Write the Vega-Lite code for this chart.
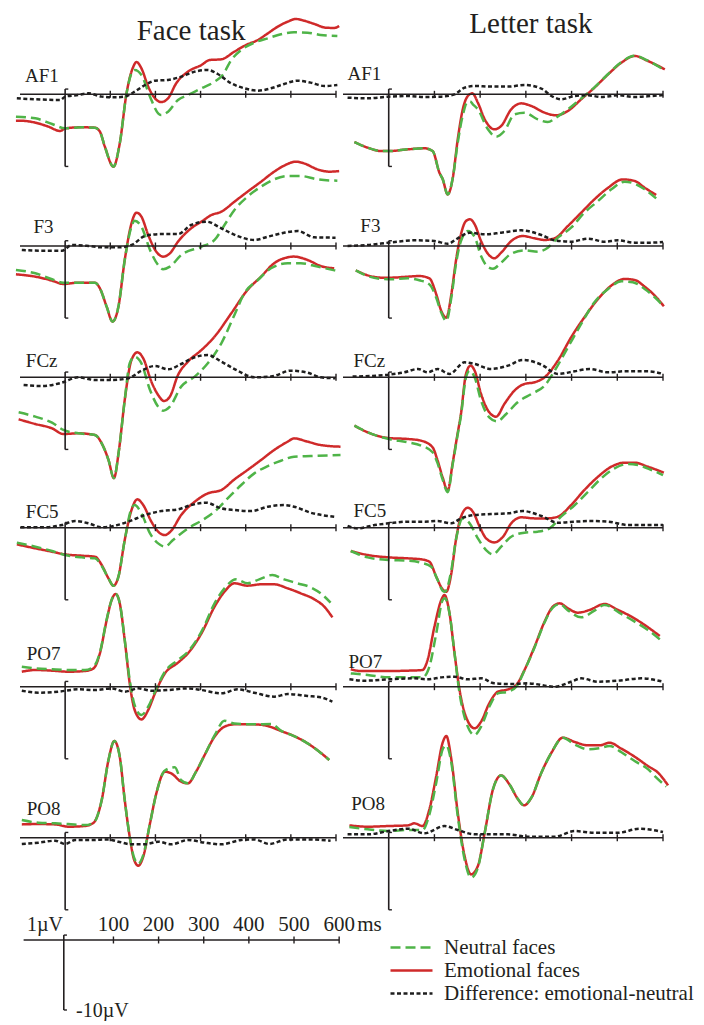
{
"$schema":"https://vega.github.io/schema/vega-lite/v6.json",
"padding":{"left":10,"top":8,"right":0,"bottom":0},
"config":{"view":{"stroke":null},"text":{"font":"Liberation Serif, Times New Roman, Times, serif"}},
"datasets":{
"ticks":[{"t":100},{"t":200},{"t":300},{"t":400},{"t":500},{"t":600}],
"ends":[{"v":0.75},{"v":-10.3}],
"F_AF1":[
{"cond":"Emotional","t":-109,"v":-3.76},{"cond":"Emotional","t":-100,"v":-3.76},{"cond":"Emotional","t":-66,"v":-4.05},{"cond":"Emotional","t":-37,"v":-4.62},{"cond":"Emotional","t":-11,"v":-5.24},{"cond":"Emotional","t":0,"v":-4.86},{"cond":"Emotional","t":37,"v":-4.71},{"cond":"Emotional","t":66,"v":-4.76},{"cond":"Emotional","t":77,"v":-5.33},{"cond":"Emotional","t":88,"v":-7.48},{"cond":"Emotional","t":107,"v":-10.33},{"cond":"Emotional","t":121,"v":-7.0},{"cond":"Emotional","t":136,"v":0.14},{"cond":"Emotional","t":151,"v":3.95},{"cond":"Emotional","t":158,"v":4.62},{"cond":"Emotional","t":169,"v":3.71},{"cond":"Emotional","t":184,"v":1.1},{"cond":"Emotional","t":199,"v":-0.57},{"cond":"Emotional","t":213,"v":-1.1},{"cond":"Emotional","t":228,"v":-0.57},{"cond":"Emotional","t":246,"v":1.57},{"cond":"Emotional","t":272,"v":3.24},{"cond":"Emotional","t":302,"v":4.19},{"cond":"Emotional","t":320,"v":4.9},{"cond":"Emotional","t":346,"v":5.0},{"cond":"Emotional","t":375,"v":6.1},{"cond":"Emotional","t":401,"v":7.05},{"cond":"Emotional","t":427,"v":7.76},{"cond":"Emotional","t":449,"v":8.71},{"cond":"Emotional","t":471,"v":9.67},{"cond":"Emotional","t":493,"v":10.38},{"cond":"Emotional","t":511,"v":10.76},{"cond":"Emotional","t":529,"v":10.52},{"cond":"Emotional","t":552,"v":10.05},{"cond":"Emotional","t":577,"v":9.52},{"cond":"Emotional","t":596,"v":9.48},{"cond":"Emotional","t":607,"v":9.76},
{"cond":"Neutral","t":-109,"v":-3.19},{"cond":"Neutral","t":-66,"v":-3.43},{"cond":"Neutral","t":-29,"v":-4.24},{"cond":"Neutral","t":0,"v":-4.86},{"cond":"Neutral","t":37,"v":-4.71},{"cond":"Neutral","t":66,"v":-4.76},{"cond":"Neutral","t":77,"v":-5.33},{"cond":"Neutral","t":88,"v":-7.48},{"cond":"Neutral","t":107,"v":-10.33},{"cond":"Neutral","t":121,"v":-7.0},{"cond":"Neutral","t":136,"v":0.14},{"cond":"Neutral","t":147,"v":3.0},{"cond":"Neutral","t":154,"v":3.48},{"cond":"Neutral","t":169,"v":2.76},{"cond":"Neutral","t":188,"v":-0.33},{"cond":"Neutral","t":206,"v":-2.71},{"cond":"Neutral","t":212,"v":-2.95},{"cond":"Neutral","t":228,"v":-2.48},{"cond":"Neutral","t":250,"v":-0.81},{"cond":"Neutral","t":272,"v":-0.1},{"cond":"Neutral","t":302,"v":0.86},{"cond":"Neutral","t":331,"v":1.81},{"cond":"Neutral","t":349,"v":2.76},{"cond":"Neutral","t":368,"v":4.9},{"cond":"Neutral","t":390,"v":6.33},{"cond":"Neutral","t":419,"v":7.38},{"cond":"Neutral","t":449,"v":8.0},{"cond":"Neutral","t":478,"v":8.57},{"cond":"Neutral","t":507,"v":8.86},{"cond":"Neutral","t":537,"v":8.81},{"cond":"Neutral","t":566,"v":8.48},{"cond":"Neutral","t":603,"v":8.33},
{"cond":"Difference","t":-107,"v":-0.57},{"cond":"Difference","t":-66,"v":-0.71},{"cond":"Difference","t":-11,"v":-0.81},{"cond":"Difference","t":0,"v":-0.33},{"cond":"Difference","t":29,"v":-0.1},{"cond":"Difference","t":52,"v":0.14},{"cond":"Difference","t":81,"v":-0.33},{"cond":"Difference","t":110,"v":-0.43},{"cond":"Difference","t":132,"v":-0.33},{"cond":"Difference","t":154,"v":0.38},{"cond":"Difference","t":177,"v":1.33},{"cond":"Difference","t":199,"v":1.95},{"cond":"Difference","t":228,"v":2.05},{"cond":"Difference","t":257,"v":2.52},{"cond":"Difference","t":287,"v":3.24},{"cond":"Difference","t":316,"v":3.48},{"cond":"Difference","t":338,"v":2.9},{"cond":"Difference","t":368,"v":1.57},{"cond":"Difference","t":397,"v":0.86},{"cond":"Difference","t":427,"v":0.52},{"cond":"Difference","t":456,"v":0.86},{"cond":"Difference","t":485,"v":1.48},{"cond":"Difference","t":515,"v":1.95},{"cond":"Difference","t":544,"v":1.67},{"cond":"Difference","t":574,"v":1.19},{"cond":"Difference","t":603,"v":1.33}
],
"L_AF1":[
{"cond":"Emotional","t":-75,"v":-6.81},{"cond":"Emotional","t":-46,"v":-7.62},{"cond":"Emotional","t":-17,"v":-8.1},{"cond":"Emotional","t":0,"v":-8.1},{"cond":"Emotional","t":42,"v":-7.86},{"cond":"Emotional","t":78,"v":-7.71},{"cond":"Emotional","t":96,"v":-8.1},{"cond":"Emotional","t":111,"v":-11.2},{"cond":"Emotional","t":118,"v":-12.1},{"cond":"Emotional","t":129,"v":-14.3},{"cond":"Emotional","t":140,"v":-12.0},{"cond":"Emotional","t":151,"v":-6.43},{"cond":"Emotional","t":162,"v":-2.14},{"cond":"Emotional","t":173,"v":-0.24},{"cond":"Emotional","t":183,"v":0.14},{"cond":"Emotional","t":195,"v":-1.19},{"cond":"Emotional","t":210,"v":-3.57},{"cond":"Emotional","t":231,"v":-5.0},{"cond":"Emotional","t":246,"v":-4.52},{"cond":"Emotional","t":268,"v":-2.14},{"cond":"Emotional","t":290,"v":-1.29},{"cond":"Emotional","t":312,"v":-1.67},{"cond":"Emotional","t":341,"v":-2.62},{"cond":"Emotional","t":366,"v":-3.0},{"cond":"Emotional","t":392,"v":-2.38},{"cond":"Emotional","t":421,"v":-0.71},{"cond":"Emotional","t":450,"v":0.95},{"cond":"Emotional","t":480,"v":2.86},{"cond":"Emotional","t":509,"v":4.52},{"cond":"Emotional","t":538,"v":5.48},{"cond":"Emotional","t":567,"v":4.76},{"cond":"Emotional","t":604,"v":3.57},
{"cond":"Neutral","t":-75,"v":-6.81},{"cond":"Neutral","t":-46,"v":-7.62},{"cond":"Neutral","t":-17,"v":-8.1},{"cond":"Neutral","t":0,"v":-8.1},{"cond":"Neutral","t":42,"v":-7.86},{"cond":"Neutral","t":78,"v":-7.71},{"cond":"Neutral","t":96,"v":-8.1},{"cond":"Neutral","t":111,"v":-11.2},{"cond":"Neutral","t":118,"v":-12.1},{"cond":"Neutral","t":129,"v":-14.3},{"cond":"Neutral","t":140,"v":-12.0},{"cond":"Neutral","t":151,"v":-6.9},{"cond":"Neutral","t":162,"v":-3.0},{"cond":"Neutral","t":172,"v":-1.1},{"cond":"Neutral","t":178,"v":-1.0},{"cond":"Neutral","t":184,"v":-1.43},{"cond":"Neutral","t":195,"v":-2.14},{"cond":"Neutral","t":217,"v":-5.0},{"cond":"Neutral","t":235,"v":-6.05},{"cond":"Neutral","t":253,"v":-5.24},{"cond":"Neutral","t":275,"v":-2.86},{"cond":"Neutral","t":297,"v":-2.62},{"cond":"Neutral","t":326,"v":-3.57},{"cond":"Neutral","t":348,"v":-3.95},{"cond":"Neutral","t":366,"v":-3.33},{"cond":"Neutral","t":392,"v":-2.14},{"cond":"Neutral","t":421,"v":-0.6},{"cond":"Neutral","t":450,"v":1.0},{"cond":"Neutral","t":480,"v":2.9},{"cond":"Neutral","t":509,"v":4.6},{"cond":"Neutral","t":538,"v":5.5},{"cond":"Neutral","t":567,"v":4.8},{"cond":"Neutral","t":604,"v":3.4},
{"cond":"Difference","t":-90,"v":-0.48},{"cond":"Difference","t":-46,"v":-0.57},{"cond":"Difference","t":0,"v":-0.33},{"cond":"Difference","t":42,"v":-0.24},{"cond":"Difference","t":78,"v":-0.38},{"cond":"Difference","t":115,"v":-0.33},{"cond":"Difference","t":144,"v":0},{"cond":"Difference","t":166,"v":0.95},{"cond":"Difference","t":188,"v":1.19},{"cond":"Difference","t":224,"v":1.1},{"cond":"Difference","t":261,"v":1.1},{"cond":"Difference","t":297,"v":1.33},{"cond":"Difference","t":334,"v":0.81},{"cond":"Difference","t":356,"v":-0.24},{"cond":"Difference","t":377,"v":-0.71},{"cond":"Difference","t":407,"v":-0.24},{"cond":"Difference","t":436,"v":-0.14},{"cond":"Difference","t":465,"v":-0.38},{"cond":"Difference","t":502,"v":-0.14},{"cond":"Difference","t":538,"v":-0.38},{"cond":"Difference","t":575,"v":-0.24},{"cond":"Difference","t":602,"v":-0.1}
],
"F_F3":[
{"cond":"Emotional","t":-109,"v":-4.05},{"cond":"Emotional","t":-66,"v":-4.38},{"cond":"Emotional","t":-29,"v":-4.95},{"cond":"Emotional","t":-4,"v":-5.43},{"cond":"Emotional","t":29,"v":-5.24},{"cond":"Emotional","t":66,"v":-5.24},{"cond":"Emotional","t":77,"v":-6.05},{"cond":"Emotional","t":92,"v":-8.67},{"cond":"Emotional","t":105,"v":-10.81},{"cond":"Emotional","t":118,"v":-8.67},{"cond":"Emotional","t":132,"v":-2.0},{"cond":"Emotional","t":147,"v":3.24},{"cond":"Emotional","t":158,"v":4.76},{"cond":"Emotional","t":169,"v":4.19},{"cond":"Emotional","t":184,"v":1.57},{"cond":"Emotional","t":202,"v":-0.81},{"cond":"Emotional","t":217,"v":-1.52},{"cond":"Emotional","t":232,"v":-1.05},{"cond":"Emotional","t":250,"v":0.62},{"cond":"Emotional","t":279,"v":2.52},{"cond":"Emotional","t":302,"v":3.48},{"cond":"Emotional","t":324,"v":4.43},{"cond":"Emotional","t":346,"v":4.9},{"cond":"Emotional","t":375,"v":6.33},{"cond":"Emotional","t":404,"v":7.76},{"cond":"Emotional","t":434,"v":9.19},{"cond":"Emotional","t":463,"v":10.62},{"cond":"Emotional","t":485,"v":11.48},{"cond":"Emotional","t":511,"v":12.05},{"cond":"Emotional","t":529,"v":11.81},{"cond":"Emotional","t":559,"v":10.95},{"cond":"Emotional","t":585,"v":10.62},{"cond":"Emotional","t":607,"v":10.71},
{"cond":"Neutral","t":-109,"v":-3.43},{"cond":"Neutral","t":-66,"v":-3.9},{"cond":"Neutral","t":-29,"v":-4.76},{"cond":"Neutral","t":-4,"v":-5.24},{"cond":"Neutral","t":29,"v":-5.24},{"cond":"Neutral","t":66,"v":-5.24},{"cond":"Neutral","t":77,"v":-6.05},{"cond":"Neutral","t":92,"v":-8.67},{"cond":"Neutral","t":105,"v":-10.81},{"cond":"Neutral","t":118,"v":-8.67},{"cond":"Neutral","t":132,"v":-2.0},{"cond":"Neutral","t":147,"v":2.76},{"cond":"Neutral","t":154,"v":3.62},{"cond":"Neutral","t":169,"v":2.76},{"cond":"Neutral","t":188,"v":-0.57},{"cond":"Neutral","t":206,"v":-2.71},{"cond":"Neutral","t":217,"v":-3.33},{"cond":"Neutral","t":232,"v":-2.95},{"cond":"Neutral","t":257,"v":-1.29},{"cond":"Neutral","t":302,"v":-0.1},{"cond":"Neutral","t":331,"v":0.86},{"cond":"Neutral","t":353,"v":3.0},{"cond":"Neutral","t":375,"v":5.14},{"cond":"Neutral","t":404,"v":7.05},{"cond":"Neutral","t":434,"v":8.48},{"cond":"Neutral","t":463,"v":9.52},{"cond":"Neutral","t":493,"v":10.0},{"cond":"Neutral","t":522,"v":10.0},{"cond":"Neutral","t":559,"v":9.52},{"cond":"Neutral","t":603,"v":9.33},
{"cond":"Difference","t":-96,"v":-0.57},{"cond":"Difference","t":-51,"v":-0.67},{"cond":"Difference","t":-7,"v":-0.67},{"cond":"Difference","t":15,"v":0.14},{"cond":"Difference","t":52,"v":0},{"cond":"Difference","t":81,"v":-0.19},{"cond":"Difference","t":118,"v":-0.19},{"cond":"Difference","t":147,"v":0.14},{"cond":"Difference","t":177,"v":1.43},{"cond":"Difference","t":213,"v":1.71},{"cond":"Difference","t":250,"v":1.71},{"cond":"Difference","t":279,"v":3.0},{"cond":"Difference","t":313,"v":3.48},{"cond":"Difference","t":346,"v":2.52},{"cond":"Difference","t":382,"v":1.43},{"cond":"Difference","t":419,"v":0.86},{"cond":"Difference","t":449,"v":1.33},{"cond":"Difference","t":485,"v":1.9},{"cond":"Difference","t":515,"v":2.14},{"cond":"Difference","t":552,"v":1.24},{"cond":"Difference","t":599,"v":1.19}
],
"L_F3":[
{"cond":"Emotional","t":-72,"v":-3.48},{"cond":"Emotional","t":-46,"v":-4.19},{"cond":"Emotional","t":-17,"v":-4.52},{"cond":"Emotional","t":5,"v":-4.52},{"cond":"Emotional","t":42,"v":-4.38},{"cond":"Emotional","t":67,"v":-4.29},{"cond":"Emotional","t":89,"v":-4.62},{"cond":"Emotional","t":104,"v":-6.9},{"cond":"Emotional","t":115,"v":-9.29},{"cond":"Emotional","t":126,"v":-10.24},{"cond":"Emotional","t":137,"v":-6.9},{"cond":"Emotional","t":147,"v":-2.14},{"cond":"Emotional","t":158,"v":1.67},{"cond":"Emotional","t":169,"v":3.57},{"cond":"Emotional","t":178,"v":3.81},{"cond":"Emotional","t":188,"v":3.1},{"cond":"Emotional","t":202,"v":0.71},{"cond":"Emotional","t":217,"v":-1.1},{"cond":"Emotional","t":231,"v":-1.76},{"cond":"Emotional","t":246,"v":-0.95},{"cond":"Emotional","t":268,"v":0.71},{"cond":"Emotional","t":293,"v":1.43},{"cond":"Emotional","t":319,"v":1.1},{"cond":"Emotional","t":341,"v":0.86},{"cond":"Emotional","t":363,"v":1.1},{"cond":"Emotional","t":392,"v":2.86},{"cond":"Emotional","t":421,"v":4.76},{"cond":"Emotional","t":450,"v":6.67},{"cond":"Emotional","t":480,"v":8.33},{"cond":"Emotional","t":512,"v":9.52},{"cond":"Emotional","t":538,"v":9.29},{"cond":"Emotional","t":560,"v":8.33},{"cond":"Emotional","t":585,"v":7.29},
{"cond":"Neutral","t":-72,"v":-3.48},{"cond":"Neutral","t":-46,"v":-4.3},{"cond":"Neutral","t":-17,"v":-4.7},{"cond":"Neutral","t":5,"v":-4.76},{"cond":"Neutral","t":42,"v":-4.62},{"cond":"Neutral","t":67,"v":-4.9},{"cond":"Neutral","t":89,"v":-5.48},{"cond":"Neutral","t":104,"v":-7.4},{"cond":"Neutral","t":115,"v":-9.52},{"cond":"Neutral","t":126,"v":-10.71},{"cond":"Neutral","t":137,"v":-7.38},{"cond":"Neutral","t":147,"v":-2.62},{"cond":"Neutral","t":158,"v":0.71},{"cond":"Neutral","t":173,"v":2.14},{"cond":"Neutral","t":188,"v":1.29},{"cond":"Neutral","t":202,"v":-1.43},{"cond":"Neutral","t":217,"v":-3.0},{"cond":"Neutral","t":228,"v":-3.24},{"cond":"Neutral","t":246,"v":-2.38},{"cond":"Neutral","t":268,"v":-1.1},{"cond":"Neutral","t":297,"v":-0.62},{"cond":"Neutral","t":326,"v":-0.81},{"cond":"Neutral","t":348,"v":-0.24},{"cond":"Neutral","t":370,"v":1.19},{"cond":"Neutral","t":399,"v":2.62},{"cond":"Neutral","t":428,"v":4.76},{"cond":"Neutral","t":458,"v":6.43},{"cond":"Neutral","t":487,"v":8.1},{"cond":"Neutral","t":516,"v":9.19},{"cond":"Neutral","t":538,"v":8.9},{"cond":"Neutral","t":560,"v":8.1},{"cond":"Neutral","t":585,"v":6.81},
{"cond":"Difference","t":-90,"v":0},{"cond":"Difference","t":-46,"v":0.14},{"cond":"Difference","t":5,"v":0.52},{"cond":"Difference","t":56,"v":0.81},{"cond":"Difference","t":100,"v":0.71},{"cond":"Difference","t":129,"v":0.33},{"cond":"Difference","t":151,"v":1.1},{"cond":"Difference","t":177,"v":1.9},{"cond":"Difference","t":210,"v":1.67},{"cond":"Difference","t":246,"v":1.9},{"cond":"Difference","t":290,"v":2.24},{"cond":"Difference","t":334,"v":1.57},{"cond":"Difference","t":363,"v":0.81},{"cond":"Difference","t":399,"v":0.62},{"cond":"Difference","t":436,"v":1.05},{"cond":"Difference","t":472,"v":0.62},{"cond":"Difference","t":502,"v":0.81},{"cond":"Difference","t":538,"v":0.48},{"cond":"Difference","t":575,"v":0.48},{"cond":"Difference","t":600,"v":0.57}
],
"F_FCz":[
{"cond":"Emotional","t":-103,"v":-6.0},{"cond":"Emotional","t":-66,"v":-6.67},{"cond":"Emotional","t":-29,"v":-7.29},{"cond":"Emotional","t":-4,"v":-8.1},{"cond":"Emotional","t":29,"v":-8.0},{"cond":"Emotional","t":66,"v":-8.24},{"cond":"Emotional","t":81,"v":-9.43},{"cond":"Emotional","t":96,"v":-11.8},{"cond":"Emotional","t":108,"v":-14.4},{"cond":"Emotional","t":119,"v":-10.5},{"cond":"Emotional","t":132,"v":-3.24},{"cond":"Emotional","t":147,"v":2.48},{"cond":"Emotional","t":160,"v":3.57},{"cond":"Emotional","t":173,"v":2.71},{"cond":"Emotional","t":191,"v":-0.62},{"cond":"Emotional","t":206,"v":-2.52},{"cond":"Emotional","t":219,"v":-3.38},{"cond":"Emotional","t":232,"v":-2.76},{"cond":"Emotional","t":250,"v":0.33},{"cond":"Emotional","t":272,"v":2.24},{"cond":"Emotional","t":302,"v":3.9},{"cond":"Emotional","t":331,"v":5.81},{"cond":"Emotional","t":368,"v":9.14},{"cond":"Emotional","t":404,"v":12.48},{"cond":"Emotional","t":434,"v":14.38},{"cond":"Emotional","t":463,"v":16.29},{"cond":"Emotional","t":493,"v":17.14},{"cond":"Emotional","t":507,"v":17.24},{"cond":"Emotional","t":537,"v":16.76},{"cond":"Emotional","t":566,"v":15.9},{"cond":"Emotional","t":596,"v":15.57},
{"cond":"Neutral","t":-103,"v":-5.0},{"cond":"Neutral","t":-66,"v":-5.62},{"cond":"Neutral","t":-29,"v":-6.48},{"cond":"Neutral","t":-4,"v":-7.52},{"cond":"Neutral","t":29,"v":-8.0},{"cond":"Neutral","t":66,"v":-8.24},{"cond":"Neutral","t":81,"v":-9.43},{"cond":"Neutral","t":96,"v":-11.8},{"cond":"Neutral","t":108,"v":-14.4},{"cond":"Neutral","t":119,"v":-10.5},{"cond":"Neutral","t":132,"v":-3.24},{"cond":"Neutral","t":143,"v":2.0},{"cond":"Neutral","t":154,"v":2.95},{"cond":"Neutral","t":169,"v":2.0},{"cond":"Neutral","t":188,"v":-1.81},{"cond":"Neutral","t":206,"v":-4.19},{"cond":"Neutral","t":217,"v":-4.76},{"cond":"Neutral","t":232,"v":-4.19},{"cond":"Neutral","t":257,"v":-1.33},{"cond":"Neutral","t":287,"v":0.1},{"cond":"Neutral","t":316,"v":2.0},{"cond":"Neutral","t":346,"v":4.86},{"cond":"Neutral","t":375,"v":8.9},{"cond":"Neutral","t":397,"v":12.0},{"cond":"Neutral","t":427,"v":13.9},{"cond":"Neutral","t":456,"v":15.57},{"cond":"Neutral","t":493,"v":16.29},{"cond":"Neutral","t":522,"v":16.29},{"cond":"Neutral","t":559,"v":15.81},{"cond":"Neutral","t":599,"v":15.24},
{"cond":"Difference","t":-92,"v":-1.1},{"cond":"Difference","t":-51,"v":-1.24},{"cond":"Difference","t":-7,"v":-0.76},{"cond":"Difference","t":29,"v":0},{"cond":"Difference","t":66,"v":-0.38},{"cond":"Difference","t":103,"v":-0.38},{"cond":"Difference","t":140,"v":-0.14},{"cond":"Difference","t":169,"v":0.95},{"cond":"Difference","t":199,"v":1.62},{"cond":"Difference","t":228,"v":1.14},{"cond":"Difference","t":257,"v":1.9},{"cond":"Difference","t":287,"v":2.86},{"cond":"Difference","t":316,"v":3.19},{"cond":"Difference","t":346,"v":2.24},{"cond":"Difference","t":382,"v":0.95},{"cond":"Difference","t":419,"v":0},{"cond":"Difference","t":456,"v":0.1},{"cond":"Difference","t":500,"v":0.95},{"cond":"Difference","t":537,"v":0.67},{"cond":"Difference","t":566,"v":0},{"cond":"Difference","t":599,"v":-0.14}
],
"L_FCz":[
{"cond":"Emotional","t":-75,"v":-6.9},{"cond":"Emotional","t":-46,"v":-7.86},{"cond":"Emotional","t":0,"v":-8.67},{"cond":"Emotional","t":42,"v":-8.81},{"cond":"Emotional","t":71,"v":-9.05},{"cond":"Emotional","t":96,"v":-10.0},{"cond":"Emotional","t":107,"v":-11.9},{"cond":"Emotional","t":118,"v":-14.3},{"cond":"Emotional","t":129,"v":-16.2},{"cond":"Emotional","t":140,"v":-12.2},{"cond":"Emotional","t":150,"v":-8.3},{"cond":"Emotional","t":158,"v":-5.24},{"cond":"Emotional","t":169,"v":0.48},{"cond":"Emotional","t":179,"v":1.67},{"cond":"Emotional","t":188,"v":0.95},{"cond":"Emotional","t":202,"v":-2.38},{"cond":"Emotional","t":220,"v":-5.0},{"cond":"Emotional","t":235,"v":-5.62},{"cond":"Emotional","t":253,"v":-3.81},{"cond":"Emotional","t":275,"v":-1.9},{"cond":"Emotional","t":297,"v":-0.95},{"cond":"Emotional","t":319,"v":-0.71},{"cond":"Emotional","t":341,"v":0},{"cond":"Emotional","t":370,"v":2.38},{"cond":"Emotional","t":399,"v":5.71},{"cond":"Emotional","t":428,"v":8.57},{"cond":"Emotional","t":458,"v":11.19},{"cond":"Emotional","t":487,"v":13.1},{"cond":"Emotional","t":516,"v":14.05},{"cond":"Emotional","t":538,"v":13.9},{"cond":"Emotional","t":560,"v":12.95},{"cond":"Emotional","t":582,"v":11.67},{"cond":"Emotional","t":602,"v":10.14},
{"cond":"Neutral","t":-75,"v":-6.9},{"cond":"Neutral","t":-46,"v":-7.86},{"cond":"Neutral","t":0,"v":-8.81},{"cond":"Neutral","t":42,"v":-9.29},{"cond":"Neutral","t":71,"v":-9.76},{"cond":"Neutral","t":96,"v":-10.71},{"cond":"Neutral","t":107,"v":-12.3},{"cond":"Neutral","t":118,"v":-14.6},{"cond":"Neutral","t":129,"v":-16.4},{"cond":"Neutral","t":140,"v":-12.4},{"cond":"Neutral","t":150,"v":-8.5},{"cond":"Neutral","t":158,"v":-5.5},{"cond":"Neutral","t":169,"v":0},{"cond":"Neutral","t":177,"v":0.95},{"cond":"Neutral","t":188,"v":0},{"cond":"Neutral","t":202,"v":-3.33},{"cond":"Neutral","t":220,"v":-5.71},{"cond":"Neutral","t":237,"v":-6.29},{"cond":"Neutral","t":257,"v":-5.24},{"cond":"Neutral","t":282,"v":-3.57},{"cond":"Neutral","t":312,"v":-2.38},{"cond":"Neutral","t":341,"v":-1.19},{"cond":"Neutral","t":363,"v":0.95},{"cond":"Neutral","t":392,"v":4.29},{"cond":"Neutral","t":421,"v":7.62},{"cond":"Neutral","t":450,"v":10.71},{"cond":"Neutral","t":480,"v":12.62},{"cond":"Neutral","t":509,"v":13.71},{"cond":"Neutral","t":534,"v":13.57},{"cond":"Neutral","t":560,"v":12.62},{"cond":"Neutral","t":582,"v":11.43},{"cond":"Neutral","t":600,"v":10.24},
{"cond":"Difference","t":-79,"v":0.1},{"cond":"Difference","t":-39,"v":0.19},{"cond":"Difference","t":0,"v":0.38},{"cond":"Difference","t":34,"v":0.71},{"cond":"Difference","t":64,"v":1.19},{"cond":"Difference","t":85,"v":0.71},{"cond":"Difference","t":107,"v":1.19},{"cond":"Difference","t":133,"v":0.48},{"cond":"Difference","t":166,"v":2.14},{"cond":"Difference","t":188,"v":1.9},{"cond":"Difference","t":224,"v":1.19},{"cond":"Difference","t":261,"v":1.67},{"cond":"Difference","t":293,"v":2.48},{"cond":"Difference","t":334,"v":1.81},{"cond":"Difference","t":370,"v":0.48},{"cond":"Difference","t":407,"v":0.86},{"cond":"Difference","t":439,"v":1.19},{"cond":"Difference","t":480,"v":0.71},{"cond":"Difference","t":516,"v":0.86},{"cond":"Difference","t":567,"v":0.86},{"cond":"Difference","t":600,"v":0.48}
],
"F_FC5":[
{"cond":"Emotional","t":-107,"v":-2.38},{"cond":"Emotional","t":-66,"v":-2.95},{"cond":"Emotional","t":-29,"v":-3.43},{"cond":"Emotional","t":0,"v":-3.81},{"cond":"Emotional","t":37,"v":-4.0},{"cond":"Emotional","t":66,"v":-4.14},{"cond":"Emotional","t":81,"v":-5.33},{"cond":"Emotional","t":96,"v":-7.24},{"cond":"Emotional","t":107,"v":-8.29},{"cond":"Emotional","t":118,"v":-7.0},{"cond":"Emotional","t":132,"v":-1.76},{"cond":"Emotional","t":147,"v":2.52},{"cond":"Emotional","t":160,"v":4.05},{"cond":"Emotional","t":173,"v":3.24},{"cond":"Emotional","t":191,"v":0.86},{"cond":"Emotional","t":206,"v":-0.57},{"cond":"Emotional","t":221,"v":-1.05},{"cond":"Emotional","t":235,"v":-0.43},{"cond":"Emotional","t":257,"v":1.81},{"cond":"Emotional","t":287,"v":3.71},{"cond":"Emotional","t":316,"v":4.9},{"cond":"Emotional","t":346,"v":5.38},{"cond":"Emotional","t":375,"v":6.9},{"cond":"Emotional","t":404,"v":8.24},{"cond":"Emotional","t":434,"v":9.67},{"cond":"Emotional","t":463,"v":11.1},{"cond":"Emotional","t":493,"v":12.29},{"cond":"Emotional","t":507,"v":12.76},{"cond":"Emotional","t":537,"v":12.29},{"cond":"Emotional","t":566,"v":11.81},{"cond":"Emotional","t":610,"v":11.57},
{"cond":"Neutral","t":-107,"v":-2.14},{"cond":"Neutral","t":-66,"v":-2.71},{"cond":"Neutral","t":-29,"v":-3.33},{"cond":"Neutral","t":0,"v":-3.9},{"cond":"Neutral","t":37,"v":-4.24},{"cond":"Neutral","t":66,"v":-4.38},{"cond":"Neutral","t":81,"v":-5.48},{"cond":"Neutral","t":96,"v":-7.24},{"cond":"Neutral","t":107,"v":-8.29},{"cond":"Neutral","t":118,"v":-7.0},{"cond":"Neutral","t":132,"v":-1.76},{"cond":"Neutral","t":147,"v":2.76},{"cond":"Neutral","t":154,"v":3.24},{"cond":"Neutral","t":169,"v":2.05},{"cond":"Neutral","t":188,"v":-0.81},{"cond":"Neutral","t":206,"v":-2.24},{"cond":"Neutral","t":221,"v":-2.71},{"cond":"Neutral","t":239,"v":-1.76},{"cond":"Neutral","t":272,"v":-0.1},{"cond":"Neutral","t":302,"v":1.0},{"cond":"Neutral","t":331,"v":2.29},{"cond":"Neutral","t":360,"v":4.19},{"cond":"Neutral","t":390,"v":6.1},{"cond":"Neutral","t":419,"v":7.76},{"cond":"Neutral","t":449,"v":8.81},{"cond":"Neutral","t":478,"v":9.57},{"cond":"Neutral","t":507,"v":10.14},{"cond":"Neutral","t":544,"v":10.24},{"cond":"Neutral","t":610,"v":10.38},
{"cond":"Difference","t":-99,"v":0.05},{"cond":"Difference","t":-51,"v":0.05},{"cond":"Difference","t":-7,"v":0.38},{"cond":"Difference","t":22,"v":0.95},{"cond":"Difference","t":52,"v":0.62},{"cond":"Difference","t":81,"v":0.05},{"cond":"Difference","t":110,"v":0.29},{"cond":"Difference","t":140,"v":0.86},{"cond":"Difference","t":177,"v":1.81},{"cond":"Difference","t":213,"v":2.38},{"cond":"Difference","t":250,"v":2.62},{"cond":"Difference","t":279,"v":3.24},{"cond":"Difference","t":313,"v":3.57},{"cond":"Difference","t":346,"v":2.76},{"cond":"Difference","t":375,"v":2.52},{"cond":"Difference","t":412,"v":2.38},{"cond":"Difference","t":449,"v":3.0},{"cond":"Difference","t":485,"v":3.24},{"cond":"Difference","t":507,"v":3.0},{"cond":"Difference","t":544,"v":2.14},{"cond":"Difference","t":596,"v":1.57}
],
"L_FC5":[
{"cond":"Emotional","t":-83,"v":-3.33},{"cond":"Emotional","t":-46,"v":-3.9},{"cond":"Emotional","t":0,"v":-4.24},{"cond":"Emotional","t":42,"v":-4.38},{"cond":"Emotional","t":71,"v":-4.52},{"cond":"Emotional","t":89,"v":-4.86},{"cond":"Emotional","t":104,"v":-7.0},{"cond":"Emotional","t":118,"v":-8.81},{"cond":"Emotional","t":126,"v":-9.14},{"cond":"Emotional","t":137,"v":-6.52},{"cond":"Emotional","t":147,"v":-1.76},{"cond":"Emotional","t":158,"v":1.57},{"cond":"Emotional","t":173,"v":2.86},{"cond":"Emotional","t":184,"v":2.29},{"cond":"Emotional","t":199,"v":0.14},{"cond":"Emotional","t":213,"v":-1.52},{"cond":"Emotional","t":231,"v":-2.1},{"cond":"Emotional","t":250,"v":-1.29},{"cond":"Emotional","t":268,"v":0.62},{"cond":"Emotional","t":290,"v":1.48},{"cond":"Emotional","t":319,"v":1.33},{"cond":"Emotional","t":348,"v":1.33},{"cond":"Emotional","t":370,"v":1.57},{"cond":"Emotional","t":399,"v":3.24},{"cond":"Emotional","t":428,"v":5.38},{"cond":"Emotional","t":458,"v":7.29},{"cond":"Emotional","t":487,"v":8.71},{"cond":"Emotional","t":516,"v":9.29},{"cond":"Emotional","t":538,"v":9.29},{"cond":"Emotional","t":567,"v":8.71},{"cond":"Emotional","t":602,"v":7.86},
{"cond":"Neutral","t":-83,"v":-3.33},{"cond":"Neutral","t":-46,"v":-4.24},{"cond":"Neutral","t":0,"v":-4.62},{"cond":"Neutral","t":42,"v":-4.71},{"cond":"Neutral","t":71,"v":-5.0},{"cond":"Neutral","t":93,"v":-5.57},{"cond":"Neutral","t":107,"v":-7.48},{"cond":"Neutral","t":118,"v":-9.0},{"cond":"Neutral","t":123,"v":-9.14},{"cond":"Neutral","t":137,"v":-6.05},{"cond":"Neutral","t":147,"v":-1.76},{"cond":"Neutral","t":162,"v":1.33},{"cond":"Neutral","t":177,"v":0.62},{"cond":"Neutral","t":195,"v":-1.52},{"cond":"Neutral","t":213,"v":-3.19},{"cond":"Neutral","t":228,"v":-3.81},{"cond":"Neutral","t":246,"v":-2.71},{"cond":"Neutral","t":268,"v":-1.29},{"cond":"Neutral","t":297,"v":-0.71},{"cond":"Neutral","t":326,"v":-0.57},{"cond":"Neutral","t":352,"v":-0.1},{"cond":"Neutral","t":377,"v":1.57},{"cond":"Neutral","t":407,"v":3.24},{"cond":"Neutral","t":436,"v":5.14},{"cond":"Neutral","t":465,"v":7.05},{"cond":"Neutral","t":494,"v":8.48},{"cond":"Neutral","t":523,"v":9.1},{"cond":"Neutral","t":545,"v":8.95},{"cond":"Neutral","t":575,"v":8.24},{"cond":"Neutral","t":600,"v":7.52},
{"cond":"Difference","t":-90,"v":0.24},{"cond":"Difference","t":-68,"v":-0.1},{"cond":"Difference","t":-31,"v":0.38},{"cond":"Difference","t":0,"v":0.62},{"cond":"Difference","t":42,"v":0.86},{"cond":"Difference","t":78,"v":0.86},{"cond":"Difference","t":107,"v":0.95},{"cond":"Difference","t":137,"v":0.62},{"cond":"Difference","t":158,"v":1.33},{"cond":"Difference","t":188,"v":1.81},{"cond":"Difference","t":224,"v":1.95},{"cond":"Difference","t":261,"v":2.05},{"cond":"Difference","t":293,"v":2.38},{"cond":"Difference","t":334,"v":1.67},{"cond":"Difference","t":370,"v":0.71},{"cond":"Difference","t":407,"v":0.86},{"cond":"Difference","t":443,"v":0.95},{"cond":"Difference","t":480,"v":0.86},{"cond":"Difference","t":523,"v":0.38},{"cond":"Difference","t":560,"v":0.38},{"cond":"Difference","t":600,"v":0.38}
],
"F_PO7":[
{"cond":"Emotional","t":-96,"v":2.14},{"cond":"Emotional","t":-66,"v":2.38},{"cond":"Emotional","t":-29,"v":2.29},{"cond":"Emotional","t":7,"v":2.14},{"cond":"Emotional","t":44,"v":2.24},{"cond":"Emotional","t":63,"v":2.62},{"cond":"Emotional","t":77,"v":4.76},{"cond":"Emotional","t":92,"v":9.52},{"cond":"Emotional","t":103,"v":12.38},{"cond":"Emotional","t":112,"v":13.24},{"cond":"Emotional","t":121,"v":11.9},{"cond":"Emotional","t":132,"v":6.67},{"cond":"Emotional","t":143,"v":0.48},{"cond":"Emotional","t":154,"v":-3.33},{"cond":"Emotional","t":169,"v":-4.67},{"cond":"Emotional","t":184,"v":-3.33},{"cond":"Emotional","t":199,"v":-0.95},{"cond":"Emotional","t":221,"v":1.9},{"cond":"Emotional","t":250,"v":3.43},{"cond":"Emotional","t":272,"v":4.76},{"cond":"Emotional","t":302,"v":7.62},{"cond":"Emotional","t":331,"v":11.43},{"cond":"Emotional","t":353,"v":13.57},{"cond":"Emotional","t":375,"v":14.76},{"cond":"Emotional","t":404,"v":14.43},{"cond":"Emotional","t":434,"v":14.62},{"cond":"Emotional","t":463,"v":14.62},{"cond":"Emotional","t":493,"v":14.05},{"cond":"Emotional","t":522,"v":13.33},{"cond":"Emotional","t":552,"v":12.48},{"cond":"Emotional","t":574,"v":11.43},{"cond":"Emotional","t":592,"v":9.9},
{"cond":"Neutral","t":-96,"v":2.86},{"cond":"Neutral","t":-66,"v":2.62},{"cond":"Neutral","t":-29,"v":2.48},{"cond":"Neutral","t":7,"v":2.38},{"cond":"Neutral","t":44,"v":2.38},{"cond":"Neutral","t":63,"v":2.86},{"cond":"Neutral","t":77,"v":4.9},{"cond":"Neutral","t":92,"v":9.6},{"cond":"Neutral","t":103,"v":12.4},{"cond":"Neutral","t":112,"v":13.24},{"cond":"Neutral","t":121,"v":11.9},{"cond":"Neutral","t":132,"v":6.67},{"cond":"Neutral","t":143,"v":0.95},{"cond":"Neutral","t":154,"v":-2.62},{"cond":"Neutral","t":169,"v":-4.05},{"cond":"Neutral","t":184,"v":-2.86},{"cond":"Neutral","t":199,"v":-0.71},{"cond":"Neutral","t":221,"v":2.14},{"cond":"Neutral","t":250,"v":3.81},{"cond":"Neutral","t":272,"v":5.0},{"cond":"Neutral","t":302,"v":7.86},{"cond":"Neutral","t":331,"v":11.9},{"cond":"Neutral","t":353,"v":14.05},{"cond":"Neutral","t":379,"v":15.33},{"cond":"Neutral","t":404,"v":14.76},{"cond":"Neutral","t":430,"v":15.33},{"cond":"Neutral","t":459,"v":15.95},{"cond":"Neutral","t":485,"v":15.33},{"cond":"Neutral","t":515,"v":14.76},{"cond":"Neutral","t":544,"v":14.19},{"cond":"Neutral","t":566,"v":13.33},{"cond":"Neutral","t":588,"v":12.0},
{"cond":"Difference","t":-96,"v":-0.57},{"cond":"Difference","t":-59,"v":-0.86},{"cond":"Difference","t":-15,"v":-0.71},{"cond":"Difference","t":29,"v":-0.38},{"cond":"Difference","t":66,"v":-0.48},{"cond":"Difference","t":103,"v":-0.24},{"cond":"Difference","t":132,"v":-0.71},{"cond":"Difference","t":162,"v":-0.24},{"cond":"Difference","t":191,"v":-0.57},{"cond":"Difference","t":228,"v":-0.48},{"cond":"Difference","t":272,"v":-0.24},{"cond":"Difference","t":302,"v":-0.48},{"cond":"Difference","t":346,"v":-0.95},{"cond":"Difference","t":382,"v":-0.38},{"cond":"Difference","t":419,"v":-0.86},{"cond":"Difference","t":463,"v":-1.43},{"cond":"Difference","t":493,"v":-1.05},{"cond":"Difference","t":537,"v":-1.33},{"cond":"Difference","t":566,"v":-1.52},{"cond":"Difference","t":592,"v":-2.14}
],
"L_PO7":[
{"cond":"Emotional","t":-83,"v":2.48},{"cond":"Emotional","t":-61,"v":2.24},{"cond":"Emotional","t":0,"v":2.24},{"cond":"Emotional","t":42,"v":2.29},{"cond":"Emotional","t":74,"v":2.38},{"cond":"Emotional","t":85,"v":3.81},{"cond":"Emotional","t":100,"v":8.57},{"cond":"Emotional","t":115,"v":12.38},{"cond":"Emotional","t":122,"v":13.1},{"cond":"Emotional","t":133,"v":10.48},{"cond":"Emotional","t":144,"v":4.76},{"cond":"Emotional","t":155,"v":-0.48},{"cond":"Emotional","t":169,"v":-4.29},{"cond":"Emotional","t":188,"v":-5.95},{"cond":"Emotional","t":202,"v":-5.0},{"cond":"Emotional","t":220,"v":-2.38},{"cond":"Emotional","t":239,"v":-0.71},{"cond":"Emotional","t":261,"v":-0.38},{"cond":"Emotional","t":279,"v":0.24},{"cond":"Emotional","t":297,"v":2.38},{"cond":"Emotional","t":319,"v":5.71},{"cond":"Emotional","t":341,"v":9.29},{"cond":"Emotional","t":359,"v":11.43},{"cond":"Emotional","t":374,"v":11.9},{"cond":"Emotional","t":392,"v":11.19},{"cond":"Emotional","t":414,"v":10.57},{"cond":"Emotional","t":439,"v":10.95},{"cond":"Emotional","t":472,"v":11.81},{"cond":"Emotional","t":502,"v":10.95},{"cond":"Emotional","t":531,"v":10.0},{"cond":"Emotional","t":560,"v":8.81},{"cond":"Emotional","t":593,"v":7.24},
{"cond":"Neutral","t":-83,"v":1.9},{"cond":"Neutral","t":-46,"v":1.67},{"cond":"Neutral","t":0,"v":1.33},{"cond":"Neutral","t":42,"v":1.33},{"cond":"Neutral","t":74,"v":1.33},{"cond":"Neutral","t":89,"v":2.86},{"cond":"Neutral","t":104,"v":7.62},{"cond":"Neutral","t":118,"v":12.38},{"cond":"Neutral","t":123,"v":12.62},{"cond":"Neutral","t":133,"v":10.48},{"cond":"Neutral","t":144,"v":4.76},{"cond":"Neutral","t":155,"v":-0.95},{"cond":"Neutral","t":169,"v":-5.0},{"cond":"Neutral","t":188,"v":-6.9},{"cond":"Neutral","t":202,"v":-5.71},{"cond":"Neutral","t":220,"v":-2.86},{"cond":"Neutral","t":239,"v":-0.95},{"cond":"Neutral","t":261,"v":-0.71},{"cond":"Neutral","t":279,"v":0},{"cond":"Neutral","t":297,"v":2.3},{"cond":"Neutral","t":319,"v":5.6},{"cond":"Neutral","t":341,"v":9.2},{"cond":"Neutral","t":359,"v":11.3},{"cond":"Neutral","t":374,"v":11.8},{"cond":"Neutral","t":392,"v":10.9},{"cond":"Neutral","t":421,"v":9.9},{"cond":"Neutral","t":450,"v":10.86},{"cond":"Neutral","t":472,"v":11.67},{"cond":"Neutral","t":509,"v":10.38},{"cond":"Neutral","t":538,"v":9.29},{"cond":"Neutral","t":567,"v":8.1},{"cond":"Neutral","t":593,"v":6.76},
{"cond":"Difference","t":-86,"v":1.05},{"cond":"Difference","t":-53,"v":0.86},{"cond":"Difference","t":0,"v":1.05},{"cond":"Difference","t":56,"v":1.19},{"cond":"Difference","t":85,"v":1.05},{"cond":"Difference","t":115,"v":1.33},{"cond":"Difference","t":144,"v":1.43},{"cond":"Difference","t":173,"v":1.05},{"cond":"Difference","t":202,"v":1.19},{"cond":"Difference","t":231,"v":0.48},{"cond":"Difference","t":268,"v":0.38},{"cond":"Difference","t":304,"v":0.48},{"cond":"Difference","t":363,"v":0},{"cond":"Difference","t":399,"v":0.71},{"cond":"Difference","t":421,"v":1.19},{"cond":"Difference","t":458,"v":0.71},{"cond":"Difference","t":502,"v":0.86},{"cond":"Difference","t":553,"v":1.19},{"cond":"Difference","t":600,"v":0.71}
],
"F_PO8":[
{"cond":"Emotional","t":-96,"v":1.9},{"cond":"Emotional","t":-59,"v":1.95},{"cond":"Emotional","t":-22,"v":1.9},{"cond":"Emotional","t":7,"v":1.57},{"cond":"Emotional","t":44,"v":1.67},{"cond":"Emotional","t":63,"v":2.14},{"cond":"Emotional","t":81,"v":5.38},{"cond":"Emotional","t":96,"v":11.1},{"cond":"Emotional","t":109,"v":13.81},{"cond":"Emotional","t":121,"v":11.57},{"cond":"Emotional","t":132,"v":5.38},{"cond":"Emotional","t":143,"v":0.14},{"cond":"Emotional","t":153,"v":-3.19},{"cond":"Emotional","t":162,"v":-4.0},{"cond":"Emotional","t":173,"v":-2.71},{"cond":"Emotional","t":188,"v":2.05},{"cond":"Emotional","t":202,"v":6.33},{"cond":"Emotional","t":221,"v":9.43},{"cond":"Emotional","t":235,"v":9.19},{"cond":"Emotional","t":257,"v":8.0},{"cond":"Emotional","t":272,"v":7.76},{"cond":"Emotional","t":290,"v":9.43},{"cond":"Emotional","t":309,"v":11.81},{"cond":"Emotional","t":331,"v":14.43},{"cond":"Emotional","t":353,"v":15.86},{"cond":"Emotional","t":375,"v":16.19},{"cond":"Emotional","t":419,"v":16.19},{"cond":"Emotional","t":449,"v":15.95},{"cond":"Emotional","t":478,"v":15.24},{"cond":"Emotional","t":507,"v":14.52},{"cond":"Emotional","t":537,"v":13.48},{"cond":"Emotional","t":563,"v":12.29},{"cond":"Emotional","t":585,"v":11.1},
{"cond":"Neutral","t":-96,"v":2.52},{"cond":"Neutral","t":-59,"v":2.14},{"cond":"Neutral","t":-22,"v":2.05},{"cond":"Neutral","t":7,"v":1.95},{"cond":"Neutral","t":44,"v":1.8},{"cond":"Neutral","t":63,"v":2.14},{"cond":"Neutral","t":81,"v":5.38},{"cond":"Neutral","t":96,"v":11.1},{"cond":"Neutral","t":109,"v":13.81},{"cond":"Neutral","t":121,"v":11.57},{"cond":"Neutral","t":132,"v":5.38},{"cond":"Neutral","t":143,"v":0.14},{"cond":"Neutral","t":153,"v":-2.9},{"cond":"Neutral","t":162,"v":-3.7},{"cond":"Neutral","t":173,"v":-2.5},{"cond":"Neutral","t":188,"v":2.05},{"cond":"Neutral","t":202,"v":6.33},{"cond":"Neutral","t":221,"v":9.6},{"cond":"Neutral","t":243,"v":10.05},{"cond":"Neutral","t":257,"v":8.2},{"cond":"Neutral","t":272,"v":7.76},{"cond":"Neutral","t":290,"v":9.43},{"cond":"Neutral","t":309,"v":11.81},{"cond":"Neutral","t":331,"v":14.6},{"cond":"Neutral","t":353,"v":16.71},{"cond":"Neutral","t":375,"v":16.3},{"cond":"Neutral","t":419,"v":16.19},{"cond":"Neutral","t":457,"v":16.24},{"cond":"Neutral","t":478,"v":15.3},{"cond":"Neutral","t":507,"v":14.52},{"cond":"Neutral","t":537,"v":13.48},{"cond":"Neutral","t":563,"v":12.29},{"cond":"Neutral","t":585,"v":11.1},
{"cond":"Difference","t":-96,"v":-0.9},{"cond":"Difference","t":-59,"v":-0.71},{"cond":"Difference","t":-22,"v":-0.43},{"cond":"Difference","t":0,"v":-0.9},{"cond":"Difference","t":22,"v":-0.33},{"cond":"Difference","t":59,"v":-0.33},{"cond":"Difference","t":96,"v":-0.24},{"cond":"Difference","t":118,"v":-0.57},{"cond":"Difference","t":147,"v":-0.95},{"cond":"Difference","t":177,"v":-0.95},{"cond":"Difference","t":206,"v":-0.57},{"cond":"Difference","t":235,"v":-0.95},{"cond":"Difference","t":272,"v":-0.33},{"cond":"Difference","t":309,"v":-0.71},{"cond":"Difference","t":346,"v":-0.95},{"cond":"Difference","t":390,"v":-0.33},{"cond":"Difference","t":419,"v":-0.24},{"cond":"Difference","t":452,"v":-0.9},{"cond":"Difference","t":493,"v":-0.24},{"cond":"Difference","t":537,"v":-0.24},{"cond":"Difference","t":588,"v":-0.43}
],
"L_PO8":[
{"cond":"Emotional","t":-86,"v":1.76},{"cond":"Emotional","t":-46,"v":1.57},{"cond":"Emotional","t":0,"v":1.67},{"cond":"Emotional","t":42,"v":1.76},{"cond":"Emotional","t":56,"v":2.05},{"cond":"Emotional","t":74,"v":1.67},{"cond":"Emotional","t":89,"v":4.05},{"cond":"Emotional","t":104,"v":8.81},{"cond":"Emotional","t":118,"v":13.57},{"cond":"Emotional","t":126,"v":14.52},{"cond":"Emotional","t":137,"v":11.19},{"cond":"Emotional","t":151,"v":3.57},{"cond":"Emotional","t":166,"v":-2.62},{"cond":"Emotional","t":180,"v":-5.24},{"cond":"Emotional","t":195,"v":-4.05},{"cond":"Emotional","t":210,"v":0.71},{"cond":"Emotional","t":228,"v":6.9},{"cond":"Emotional","t":246,"v":8.9},{"cond":"Emotional","t":264,"v":7.62},{"cond":"Emotional","t":283,"v":5.48},{"cond":"Emotional","t":296,"v":4.62},{"cond":"Emotional","t":312,"v":5.71},{"cond":"Emotional","t":334,"v":9.29},{"cond":"Emotional","t":356,"v":12.14},{"cond":"Emotional","t":381,"v":14.29},{"cond":"Emotional","t":407,"v":13.67},{"cond":"Emotional","t":436,"v":13.19},{"cond":"Emotional","t":461,"v":13.19},{"cond":"Emotional","t":483,"v":13.57},{"cond":"Emotional","t":509,"v":12.71},{"cond":"Emotional","t":538,"v":11.57},{"cond":"Emotional","t":567,"v":10.24},{"cond":"Emotional","t":589,"v":9.29},{"cond":"Emotional","t":611,"v":7.48},
{"cond":"Neutral","t":-86,"v":1.52},{"cond":"Neutral","t":-46,"v":1.19},{"cond":"Neutral","t":0,"v":0.95},{"cond":"Neutral","t":42,"v":1.1},{"cond":"Neutral","t":74,"v":1.1},{"cond":"Neutral","t":89,"v":3.33},{"cond":"Neutral","t":104,"v":7.86},{"cond":"Neutral","t":118,"v":12.62},{"cond":"Neutral","t":126,"v":13.19},{"cond":"Neutral","t":137,"v":10.71},{"cond":"Neutral","t":151,"v":3.1},{"cond":"Neutral","t":166,"v":-3.1},{"cond":"Neutral","t":180,"v":-5.71},{"cond":"Neutral","t":195,"v":-4.29},{"cond":"Neutral","t":210,"v":0.71},{"cond":"Neutral","t":228,"v":6.9},{"cond":"Neutral","t":246,"v":8.9},{"cond":"Neutral","t":264,"v":7.62},{"cond":"Neutral","t":283,"v":5.48},{"cond":"Neutral","t":296,"v":4.62},{"cond":"Neutral","t":312,"v":5.71},{"cond":"Neutral","t":334,"v":9.29},{"cond":"Neutral","t":356,"v":12.14},{"cond":"Neutral","t":381,"v":14.29},{"cond":"Neutral","t":407,"v":13.3},{"cond":"Neutral","t":436,"v":12.62},{"cond":"Neutral","t":461,"v":12.8},{"cond":"Neutral","t":483,"v":13.1},{"cond":"Neutral","t":509,"v":12.2},{"cond":"Neutral","t":538,"v":10.95},{"cond":"Neutral","t":567,"v":9.8},{"cond":"Neutral","t":582,"v":8.81},{"cond":"Neutral","t":607,"v":7.29},
{"cond":"Difference","t":-90,"v":0.48},{"cond":"Difference","t":-46,"v":0.48},{"cond":"Difference","t":0,"v":0.95},{"cond":"Difference","t":42,"v":1.29},{"cond":"Difference","t":78,"v":0.62},{"cond":"Difference","t":122,"v":1.67},{"cond":"Difference","t":151,"v":1.1},{"cond":"Difference","t":188,"v":0.48},{"cond":"Difference","t":224,"v":0.48},{"cond":"Difference","t":261,"v":0.48},{"cond":"Difference","t":304,"v":0.14},{"cond":"Difference","t":363,"v":0.14},{"cond":"Difference","t":407,"v":0.95},{"cond":"Difference","t":450,"v":0.71},{"cond":"Difference","t":502,"v":0.71},{"cond":"Difference","t":549,"v":1.29},{"cond":"Difference","t":600,"v":0.81}
]
},
"concat":[
{"width":316,"height":162,"layer":[
{"data":{"name":"F_AF1"},"mark":{"type":"line","strokeWidth":2.5,"interpolate":"monotone"},"encoding":{"x":{"field":"t","type":"quantitative","scale":{"domain":[-100,600],"nice":false,"zero":false},"axis":null},"y":{"field":"v","type":"quantitative","scale":{"domain":[-10.81,12.33],"nice":false,"zero":false},"axis":null},"color":{"field":"cond","type":"nominal","scale":{"domain":["Neutral","Emotional","Difference"],"range":["#4fb448","#cf2a2a","#1e1e1e"]},"legend":{"orient":"none","legendX":369,"legendY":928,"title":null,"labelFont":"Liberation Serif, Times New Roman, Times, serif","labelFontSize":21,"labelColor":"#231f20","symbolType":"stroke","symbolSize":1764,"symbolStrokeWidth":2.5,"labelOffset":10,"clipHeight":23,"rowPadding":0,"padding":0,"labelLimit":400,"labelExpr":"datum.label == 'Neutral' ? 'Neutral faces' : datum.label == 'Emotional' ? 'Emotional faces' : 'Difference: emotional-neutral'"}},"strokeDash":{"field":"cond","type":"nominal","scale":{"domain":["Neutral","Emotional","Difference"],"range":[[10,5],[1,0],[4,2.5]]},"legend":{"orient":"none","legendX":369,"legendY":928,"title":null,"labelFont":"Liberation Serif, Times New Roman, Times, serif","labelFontSize":21,"labelColor":"#231f20","symbolType":"stroke","symbolSize":1764,"symbolStrokeWidth":2.5,"labelOffset":10,"clipHeight":23,"rowPadding":0,"padding":0,"labelLimit":400,"labelExpr":"datum.label == 'Neutral' ? 'Neutral faces' : datum.label == 'Emotional' ? 'Emotional faces' : 'Difference: emotional-neutral'"}}}},
{"data":{"values":[{}]},"mark":{"type":"rule","color":"#231f20","strokeWidth":1.6},"encoding":{"x":{"datum":-100,"type":"quantitative"},"x2":{"datum":600},"y":{"datum":0,"type":"quantitative"}}},
{"data":{"name":"ticks"},"mark":{"type":"rule","color":"#231f20","strokeWidth":1.4},"encoding":{"x":{"field":"t","type":"quantitative"},"y":{"datum":-0.5,"type":"quantitative"},"y2":{"datum":0.5}}},
{"data":{"values":[{}]},"mark":{"type":"rule","color":"#231f20","strokeWidth":1.6},"encoding":{"x":{"datum":0,"type":"quantitative"},"y":{"datum":0.75,"type":"quantitative"},"y2":{"datum":-10.3}}},
{"data":{"name":"ends"},"mark":{"type":"rule","color":"#231f20","strokeWidth":1.4},"encoding":{"x":{"datum":0,"type":"quantitative"},"x2":{"datum":7},"y":{"field":"v","type":"quantitative"}}},
{"data":{"values":[{"label":"AF1"}]},"mark":{"type":"text","align":"left","baseline":"alphabetic","fontSize":19,"color":"#231f20"},"encoding":{"x":{"datum":-89,"type":"quantitative"},"y":{"datum":1.8,"type":"quantitative"},"text":{"field":"label"}}},
{"data":{"values":[{"label":"Face task"}]},"mark":{"type":"text","align":"center","baseline":"alphabetic","fontSize":29,"color":"#231f20"},"encoding":{"x":{"datum":279,"type":"quantitative"},"y":{"datum":7.83,"type":"quantitative"},"text":{"field":"label"}}}
]},
{"width":320,"height":162,"layer":[
{"data":{"name":"L_AF1"},"mark":{"type":"line","strokeWidth":2.5,"interpolate":"monotone"},"encoding":{"x":{"field":"t","type":"quantitative","scale":{"domain":[-100,600],"nice":false,"zero":false},"axis":null},"y":{"field":"v","type":"quantitative","scale":{"domain":[-10.81,12.33],"nice":false,"zero":false},"axis":null},"color":{"field":"cond","type":"nominal","scale":{"domain":["Neutral","Emotional","Difference"],"range":["#4fb448","#cf2a2a","#1e1e1e"]}},"strokeDash":{"field":"cond","type":"nominal","scale":{"domain":["Neutral","Emotional","Difference"],"range":[[10,5],[1,0],[4,2.5]]}}}},
{"data":{"values":[{}]},"mark":{"type":"rule","color":"#231f20","strokeWidth":1.6},"encoding":{"x":{"datum":-100,"type":"quantitative"},"x2":{"datum":600},"y":{"datum":0,"type":"quantitative"}}},
{"data":{"name":"ticks"},"mark":{"type":"rule","color":"#231f20","strokeWidth":1.4},"encoding":{"x":{"field":"t","type":"quantitative"},"y":{"datum":-0.5,"type":"quantitative"},"y2":{"datum":0.5}}},
{"data":{"values":[{}]},"mark":{"type":"rule","color":"#231f20","strokeWidth":1.6},"encoding":{"x":{"datum":0,"type":"quantitative"},"y":{"datum":0.75,"type":"quantitative"},"y2":{"datum":-10.3}}},
{"data":{"name":"ends"},"mark":{"type":"rule","color":"#231f20","strokeWidth":1.4},"encoding":{"x":{"datum":0,"type":"quantitative"},"x2":{"datum":7},"y":{"field":"v","type":"quantitative"}}},
{"data":{"values":[{"label":"AF1"}]},"mark":{"type":"text","align":"left","baseline":"alphabetic","fontSize":19,"color":"#231f20"},"encoding":{"x":{"datum":-90,"type":"quantitative"},"y":{"datum":2.04,"type":"quantitative"},"text":{"field":"label"}}},
{"data":{"values":[{"label":"Letter task"}]},"mark":{"type":"text","align":"center","baseline":"alphabetic","fontSize":29,"color":"#231f20"},"encoding":{"x":{"datum":311,"type":"quantitative"},"y":{"datum":8.81,"type":"quantitative"},"text":{"field":"label"}}}
]},
{"width":316,"height":152,"layer":[
{"data":{"name":"F_F3"},"mark":{"type":"line","strokeWidth":2.5,"interpolate":"monotone"},"encoding":{"x":{"field":"t","type":"quantitative","scale":{"domain":[-100,600],"nice":false,"zero":false},"axis":null},"y":{"field":"v","type":"quantitative","scale":{"domain":[-10.86,10.86],"nice":false,"zero":false},"axis":null},"color":{"field":"cond","type":"nominal","scale":{"domain":["Neutral","Emotional","Difference"],"range":["#4fb448","#cf2a2a","#1e1e1e"]}},"strokeDash":{"field":"cond","type":"nominal","scale":{"domain":["Neutral","Emotional","Difference"],"range":[[10,5],[1,0],[4,2.5]]}}}},
{"data":{"values":[{}]},"mark":{"type":"rule","color":"#231f20","strokeWidth":1.6},"encoding":{"x":{"datum":-100,"type":"quantitative"},"x2":{"datum":600},"y":{"datum":0,"type":"quantitative"}}},
{"data":{"name":"ticks"},"mark":{"type":"rule","color":"#231f20","strokeWidth":1.4},"encoding":{"x":{"field":"t","type":"quantitative"},"y":{"datum":-0.5,"type":"quantitative"},"y2":{"datum":0.5}}},
{"data":{"values":[{}]},"mark":{"type":"rule","color":"#231f20","strokeWidth":1.6},"encoding":{"x":{"datum":0,"type":"quantitative"},"y":{"datum":0.75,"type":"quantitative"},"y2":{"datum":-10.3}}},
{"data":{"name":"ends"},"mark":{"type":"rule","color":"#231f20","strokeWidth":1.4},"encoding":{"x":{"datum":0,"type":"quantitative"},"x2":{"datum":7},"y":{"field":"v","type":"quantitative"}}},
{"data":{"values":[{"label":"F3"}]},"mark":{"type":"text","align":"left","baseline":"alphabetic","fontSize":19,"color":"#231f20"},"encoding":{"x":{"datum":-70,"type":"quantitative"},"y":{"datum":1.9,"type":"quantitative"},"text":{"field":"label"}}}
]},
{"width":320,"height":152,"layer":[
{"data":{"name":"L_F3"},"mark":{"type":"line","strokeWidth":2.5,"interpolate":"monotone"},"encoding":{"x":{"field":"t","type":"quantitative","scale":{"domain":[-100,600],"nice":false,"zero":false},"axis":null},"y":{"field":"v","type":"quantitative","scale":{"domain":[-10.86,10.86],"nice":false,"zero":false},"axis":null},"color":{"field":"cond","type":"nominal","scale":{"domain":["Neutral","Emotional","Difference"],"range":["#4fb448","#cf2a2a","#1e1e1e"]}},"strokeDash":{"field":"cond","type":"nominal","scale":{"domain":["Neutral","Emotional","Difference"],"range":[[10,5],[1,0],[4,2.5]]}}}},
{"data":{"values":[{}]},"mark":{"type":"rule","color":"#231f20","strokeWidth":1.6},"encoding":{"x":{"datum":-100,"type":"quantitative"},"x2":{"datum":600},"y":{"datum":0,"type":"quantitative"}}},
{"data":{"name":"ticks"},"mark":{"type":"rule","color":"#231f20","strokeWidth":1.4},"encoding":{"x":{"field":"t","type":"quantitative"},"y":{"datum":-0.5,"type":"quantitative"},"y2":{"datum":0.5}}},
{"data":{"values":[{}]},"mark":{"type":"rule","color":"#231f20","strokeWidth":1.6},"encoding":{"x":{"datum":0,"type":"quantitative"},"y":{"datum":0.75,"type":"quantitative"},"y2":{"datum":-10.3}}},
{"data":{"name":"ends"},"mark":{"type":"rule","color":"#231f20","strokeWidth":1.4},"encoding":{"x":{"datum":0,"type":"quantitative"},"x2":{"datum":7},"y":{"field":"v","type":"quantitative"}}},
{"data":{"values":[{"label":"F3"}]},"mark":{"type":"text","align":"left","baseline":"alphabetic","fontSize":19,"color":"#231f20"},"encoding":{"x":{"datum":-62,"type":"quantitative"},"y":{"datum":2.04,"type":"quantitative"},"text":{"field":"label"}}}
]},
{"width":316,"height":131,"layer":[
{"data":{"name":"F_FCz"},"mark":{"type":"line","strokeWidth":2.5,"interpolate":"monotone"},"encoding":{"x":{"field":"t","type":"quantitative","scale":{"domain":[-100,600],"nice":false,"zero":false},"axis":null},"y":{"field":"v","type":"quantitative","scale":{"domain":[-10.81,7.9],"nice":false,"zero":false},"axis":null},"color":{"field":"cond","type":"nominal","scale":{"domain":["Neutral","Emotional","Difference"],"range":["#4fb448","#cf2a2a","#1e1e1e"]}},"strokeDash":{"field":"cond","type":"nominal","scale":{"domain":["Neutral","Emotional","Difference"],"range":[[10,5],[1,0],[4,2.5]]}}}},
{"data":{"values":[{}]},"mark":{"type":"rule","color":"#231f20","strokeWidth":1.6},"encoding":{"x":{"datum":-100,"type":"quantitative"},"x2":{"datum":600},"y":{"datum":0,"type":"quantitative"}}},
{"data":{"name":"ticks"},"mark":{"type":"rule","color":"#231f20","strokeWidth":1.4},"encoding":{"x":{"field":"t","type":"quantitative"},"y":{"datum":-0.5,"type":"quantitative"},"y2":{"datum":0.5}}},
{"data":{"values":[{}]},"mark":{"type":"rule","color":"#231f20","strokeWidth":1.6},"encoding":{"x":{"datum":0,"type":"quantitative"},"y":{"datum":0.75,"type":"quantitative"},"y2":{"datum":-10.3}}},
{"data":{"name":"ends"},"mark":{"type":"rule","color":"#231f20","strokeWidth":1.4},"encoding":{"x":{"datum":0,"type":"quantitative"},"x2":{"datum":7},"y":{"field":"v","type":"quantitative"}}},
{"data":{"values":[{"label":"FCz"}]},"mark":{"type":"text","align":"left","baseline":"alphabetic","fontSize":19,"color":"#231f20"},"encoding":{"x":{"datum":-87,"type":"quantitative"},"y":{"datum":1.51,"type":"quantitative"},"text":{"field":"label"}}}
]},
{"width":320,"height":131,"layer":[
{"data":{"name":"L_FCz"},"mark":{"type":"line","strokeWidth":2.5,"interpolate":"monotone"},"encoding":{"x":{"field":"t","type":"quantitative","scale":{"domain":[-100,600],"nice":false,"zero":false},"axis":null},"y":{"field":"v","type":"quantitative","scale":{"domain":[-10.81,7.9],"nice":false,"zero":false},"axis":null},"color":{"field":"cond","type":"nominal","scale":{"domain":["Neutral","Emotional","Difference"],"range":["#4fb448","#cf2a2a","#1e1e1e"]}},"strokeDash":{"field":"cond","type":"nominal","scale":{"domain":["Neutral","Emotional","Difference"],"range":[[10,5],[1,0],[4,2.5]]}}}},
{"data":{"values":[{}]},"mark":{"type":"rule","color":"#231f20","strokeWidth":1.6},"encoding":{"x":{"datum":-100,"type":"quantitative"},"x2":{"datum":600},"y":{"datum":0,"type":"quantitative"}}},
{"data":{"name":"ticks"},"mark":{"type":"rule","color":"#231f20","strokeWidth":1.4},"encoding":{"x":{"field":"t","type":"quantitative"},"y":{"datum":-0.5,"type":"quantitative"},"y2":{"datum":0.5}}},
{"data":{"values":[{}]},"mark":{"type":"rule","color":"#231f20","strokeWidth":1.6},"encoding":{"x":{"datum":0,"type":"quantitative"},"y":{"datum":0.75,"type":"quantitative"},"y2":{"datum":-10.3}}},
{"data":{"name":"ends"},"mark":{"type":"rule","color":"#231f20","strokeWidth":1.4},"encoding":{"x":{"datum":0,"type":"quantitative"},"x2":{"datum":7},"y":{"field":"v","type":"quantitative"}}},
{"data":{"values":[{"label":"FCz"}]},"mark":{"type":"text","align":"left","baseline":"alphabetic","fontSize":19,"color":"#231f20"},"encoding":{"x":{"datum":-77,"type":"quantitative"},"y":{"datum":1.51,"type":"quantitative"},"text":{"field":"label"}}}
]},
{"width":316,"height":151,"layer":[
{"data":{"name":"F_FC5"},"mark":{"type":"line","strokeWidth":2.5,"interpolate":"monotone"},"encoding":{"x":{"field":"t","type":"quantitative","scale":{"domain":[-100,600],"nice":false,"zero":false},"axis":null},"y":{"field":"v","type":"quantitative","scale":{"domain":[-10.9,10.67],"nice":false,"zero":false},"axis":null},"color":{"field":"cond","type":"nominal","scale":{"domain":["Neutral","Emotional","Difference"],"range":["#4fb448","#cf2a2a","#1e1e1e"]}},"strokeDash":{"field":"cond","type":"nominal","scale":{"domain":["Neutral","Emotional","Difference"],"range":[[10,5],[1,0],[4,2.5]]}}}},
{"data":{"values":[{}]},"mark":{"type":"rule","color":"#231f20","strokeWidth":1.6},"encoding":{"x":{"datum":-100,"type":"quantitative"},"x2":{"datum":600},"y":{"datum":0,"type":"quantitative"}}},
{"data":{"name":"ticks"},"mark":{"type":"rule","color":"#231f20","strokeWidth":1.4},"encoding":{"x":{"field":"t","type":"quantitative"},"y":{"datum":-0.5,"type":"quantitative"},"y2":{"datum":0.5}}},
{"data":{"values":[{}]},"mark":{"type":"rule","color":"#231f20","strokeWidth":1.6},"encoding":{"x":{"datum":0,"type":"quantitative"},"y":{"datum":0.75,"type":"quantitative"},"y2":{"datum":-10.3}}},
{"data":{"name":"ends"},"mark":{"type":"rule","color":"#231f20","strokeWidth":1.4},"encoding":{"x":{"datum":0,"type":"quantitative"},"x2":{"datum":7},"y":{"field":"v","type":"quantitative"}}},
{"data":{"values":[{"label":"FC5"}]},"mark":{"type":"text","align":"left","baseline":"alphabetic","fontSize":19,"color":"#231f20"},"encoding":{"x":{"datum":-87,"type":"quantitative"},"y":{"datum":1.34,"type":"quantitative"},"text":{"field":"label"}}}
]},
{"width":320,"height":151,"layer":[
{"data":{"name":"L_FC5"},"mark":{"type":"line","strokeWidth":2.5,"interpolate":"monotone"},"encoding":{"x":{"field":"t","type":"quantitative","scale":{"domain":[-100,600],"nice":false,"zero":false},"axis":null},"y":{"field":"v","type":"quantitative","scale":{"domain":[-10.9,10.67],"nice":false,"zero":false},"axis":null},"color":{"field":"cond","type":"nominal","scale":{"domain":["Neutral","Emotional","Difference"],"range":["#4fb448","#cf2a2a","#1e1e1e"]}},"strokeDash":{"field":"cond","type":"nominal","scale":{"domain":["Neutral","Emotional","Difference"],"range":[[10,5],[1,0],[4,2.5]]}}}},
{"data":{"values":[{}]},"mark":{"type":"rule","color":"#231f20","strokeWidth":1.6},"encoding":{"x":{"datum":-100,"type":"quantitative"},"x2":{"datum":600},"y":{"datum":0,"type":"quantitative"}}},
{"data":{"name":"ticks"},"mark":{"type":"rule","color":"#231f20","strokeWidth":1.4},"encoding":{"x":{"field":"t","type":"quantitative"},"y":{"datum":-0.5,"type":"quantitative"},"y2":{"datum":0.5}}},
{"data":{"values":[{}]},"mark":{"type":"rule","color":"#231f20","strokeWidth":1.6},"encoding":{"x":{"datum":0,"type":"quantitative"},"y":{"datum":0.75,"type":"quantitative"},"y2":{"datum":-10.3}}},
{"data":{"name":"ends"},"mark":{"type":"rule","color":"#231f20","strokeWidth":1.4},"encoding":{"x":{"datum":0,"type":"quantitative"},"x2":{"datum":7},"y":{"field":"v","type":"quantitative"}}},
{"data":{"values":[{"label":"FC5"}]},"mark":{"type":"text","align":"left","baseline":"alphabetic","fontSize":19,"color":"#231f20"},"encoding":{"x":{"datum":-77,"type":"quantitative"},"y":{"datum":1.49,"type":"quantitative"},"text":{"field":"label"}}}
]},
{"width":316,"height":159,"layer":[
{"data":{"name":"F_PO7"},"mark":{"type":"line","strokeWidth":2.5,"interpolate":"monotone"},"encoding":{"x":{"field":"t","type":"quantitative","scale":{"domain":[-100,600],"nice":false,"zero":false},"axis":null},"y":{"field":"v","type":"quantitative","scale":{"domain":[-10.9,11.81],"nice":false,"zero":false},"axis":null},"color":{"field":"cond","type":"nominal","scale":{"domain":["Neutral","Emotional","Difference"],"range":["#4fb448","#cf2a2a","#1e1e1e"]}},"strokeDash":{"field":"cond","type":"nominal","scale":{"domain":["Neutral","Emotional","Difference"],"range":[[10,5],[1,0],[4,2.5]]}}}},
{"data":{"values":[{}]},"mark":{"type":"rule","color":"#231f20","strokeWidth":1.6},"encoding":{"x":{"datum":-100,"type":"quantitative"},"x2":{"datum":600},"y":{"datum":0,"type":"quantitative"}}},
{"data":{"name":"ticks"},"mark":{"type":"rule","color":"#231f20","strokeWidth":1.4},"encoding":{"x":{"field":"t","type":"quantitative"},"y":{"datum":-0.5,"type":"quantitative"},"y2":{"datum":0.5}}},
{"data":{"values":[{}]},"mark":{"type":"rule","color":"#231f20","strokeWidth":1.6},"encoding":{"x":{"datum":0,"type":"quantitative"},"y":{"datum":0.75,"type":"quantitative"},"y2":{"datum":-10.3}}},
{"data":{"name":"ends"},"mark":{"type":"rule","color":"#231f20","strokeWidth":1.4},"encoding":{"x":{"datum":0,"type":"quantitative"},"x2":{"datum":7},"y":{"field":"v","type":"quantitative"}}},
{"data":{"values":[{"label":"PO7"}]},"mark":{"type":"text","align":"left","baseline":"alphabetic","fontSize":19,"color":"#231f20"},"encoding":{"x":{"datum":-85,"type":"quantitative"},"y":{"datum":3.81,"type":"quantitative"},"text":{"field":"label"}}}
]},
{"width":320,"height":159,"layer":[
{"data":{"name":"L_PO7"},"mark":{"type":"line","strokeWidth":2.5,"interpolate":"monotone"},"encoding":{"x":{"field":"t","type":"quantitative","scale":{"domain":[-100,600],"nice":false,"zero":false},"axis":null},"y":{"field":"v","type":"quantitative","scale":{"domain":[-10.9,11.81],"nice":false,"zero":false},"axis":null},"color":{"field":"cond","type":"nominal","scale":{"domain":["Neutral","Emotional","Difference"],"range":["#4fb448","#cf2a2a","#1e1e1e"]}},"strokeDash":{"field":"cond","type":"nominal","scale":{"domain":["Neutral","Emotional","Difference"],"range":[[10,5],[1,0],[4,2.5]]}}}},
{"data":{"values":[{}]},"mark":{"type":"rule","color":"#231f20","strokeWidth":1.6},"encoding":{"x":{"datum":-100,"type":"quantitative"},"x2":{"datum":600},"y":{"datum":0,"type":"quantitative"}}},
{"data":{"name":"ticks"},"mark":{"type":"rule","color":"#231f20","strokeWidth":1.4},"encoding":{"x":{"field":"t","type":"quantitative"},"y":{"datum":-0.5,"type":"quantitative"},"y2":{"datum":0.5}}},
{"data":{"values":[{}]},"mark":{"type":"rule","color":"#231f20","strokeWidth":1.6},"encoding":{"x":{"datum":0,"type":"quantitative"},"y":{"datum":0.75,"type":"quantitative"},"y2":{"datum":-10.3}}},
{"data":{"name":"ends"},"mark":{"type":"rule","color":"#231f20","strokeWidth":1.4},"encoding":{"x":{"datum":0,"type":"quantitative"},"x2":{"datum":7},"y":{"field":"v","type":"quantitative"}}},
{"data":{"values":[{"label":"PO7"}]},"mark":{"type":"text","align":"left","baseline":"alphabetic","fontSize":19,"color":"#231f20"},"encoding":{"x":{"datum":-88,"type":"quantitative"},"y":{"datum":2.63,"type":"quantitative"},"text":{"field":"label"}}}
]},
{"width":316,"height":151,"layer":[
{"data":{"name":"F_PO8"},"mark":{"type":"line","strokeWidth":2.5,"interpolate":"monotone"},"encoding":{"x":{"field":"t","type":"quantitative","scale":{"domain":[-100,600],"nice":false,"zero":false},"axis":null},"y":{"field":"v","type":"quantitative","scale":{"domain":[-10.9,10.67],"nice":false,"zero":false},"axis":null},"color":{"field":"cond","type":"nominal","scale":{"domain":["Neutral","Emotional","Difference"],"range":["#4fb448","#cf2a2a","#1e1e1e"]}},"strokeDash":{"field":"cond","type":"nominal","scale":{"domain":["Neutral","Emotional","Difference"],"range":[[10,5],[1,0],[4,2.5]]}}}},
{"data":{"values":[{}]},"mark":{"type":"rule","color":"#231f20","strokeWidth":1.6},"encoding":{"x":{"datum":-100,"type":"quantitative"},"x2":{"datum":600},"y":{"datum":0,"type":"quantitative"}}},
{"data":{"name":"ticks"},"mark":{"type":"rule","color":"#231f20","strokeWidth":1.4},"encoding":{"x":{"field":"t","type":"quantitative"},"y":{"datum":-0.5,"type":"quantitative"},"y2":{"datum":0.5}}},
{"data":{"values":[{}]},"mark":{"type":"rule","color":"#231f20","strokeWidth":1.6},"encoding":{"x":{"datum":0,"type":"quantitative"},"y":{"datum":0.75,"type":"quantitative"},"y2":{"datum":-10.3}}},
{"data":{"name":"ends"},"mark":{"type":"rule","color":"#231f20","strokeWidth":1.4},"encoding":{"x":{"datum":0,"type":"quantitative"},"x2":{"datum":7},"y":{"field":"v","type":"quantitative"}}},
{"data":{"values":[{"label":"PO8"}]},"mark":{"type":"text","align":"left","baseline":"alphabetic","fontSize":19,"color":"#231f20"},"encoding":{"x":{"datum":-85,"type":"quantitative"},"y":{"datum":3.24,"type":"quantitative"},"text":{"field":"label"}}}
]},
{"width":320,"height":151,"layer":[
{"data":{"name":"L_PO8"},"mark":{"type":"line","strokeWidth":2.5,"interpolate":"monotone"},"encoding":{"x":{"field":"t","type":"quantitative","scale":{"domain":[-100,600],"nice":false,"zero":false},"axis":null},"y":{"field":"v","type":"quantitative","scale":{"domain":[-10.9,10.67],"nice":false,"zero":false},"axis":null},"color":{"field":"cond","type":"nominal","scale":{"domain":["Neutral","Emotional","Difference"],"range":["#4fb448","#cf2a2a","#1e1e1e"]}},"strokeDash":{"field":"cond","type":"nominal","scale":{"domain":["Neutral","Emotional","Difference"],"range":[[10,5],[1,0],[4,2.5]]}}}},
{"data":{"values":[{}]},"mark":{"type":"rule","color":"#231f20","strokeWidth":1.6},"encoding":{"x":{"datum":-100,"type":"quantitative"},"x2":{"datum":600},"y":{"datum":0,"type":"quantitative"}}},
{"data":{"name":"ticks"},"mark":{"type":"rule","color":"#231f20","strokeWidth":1.4},"encoding":{"x":{"field":"t","type":"quantitative"},"y":{"datum":-0.5,"type":"quantitative"},"y2":{"datum":0.5}}},
{"data":{"values":[{}]},"mark":{"type":"rule","color":"#231f20","strokeWidth":1.6},"encoding":{"x":{"datum":0,"type":"quantitative"},"y":{"datum":0.75,"type":"quantitative"},"y2":{"datum":-10.3}}},
{"data":{"name":"ends"},"mark":{"type":"rule","color":"#231f20","strokeWidth":1.4},"encoding":{"x":{"datum":0,"type":"quantitative"},"x2":{"datum":7},"y":{"field":"v","type":"quantitative"}}},
{"data":{"values":[{"label":"PO8"}]},"mark":{"type":"text","align":"left","baseline":"alphabetic","fontSize":19,"color":"#231f20"},"encoding":{"x":{"datum":-82,"type":"quantitative"},"y":{"datum":3.96,"type":"quantitative"},"text":{"field":"label"}}}
]},
{"width":316,"height":106,"layer":[
{"data":{"values":[{}]},"mark":{"type":"rule","color":"#231f20","strokeWidth":1.6},"encoding":{"x":{"datum":-99,"type":"quantitative","scale":{"domain":[-107,593],"nice":false,"zero":false},"axis":null},"x2":{"datum":600},"y":{"datum":0,"type":"quantitative","scale":{"domain":[-11.43,3.71],"nice":false,"zero":false},"axis":null}}},
{"data":{"name":"ticks"},"mark":{"type":"rule","color":"#231f20","strokeWidth":1.4},"encoding":{"x":{"field":"t","type":"quantitative"},"y":{"datum":-0.5,"type":"quantitative"},"y2":{"datum":0.5}}},
{"data":{"values":[{}]},"mark":{"type":"rule","color":"#231f20","strokeWidth":1.6},"encoding":{"x":{"datum":-10,"type":"quantitative"},"y":{"datum":0.7,"type":"quantitative"},"y2":{"datum":-10}}},
{"data":{"values":[{"v":0.7},{"v":-10}]},"mark":{"type":"rule","color":"#231f20","strokeWidth":1.4},"encoding":{"x":{"datum":-10,"type":"quantitative"},"x2":{"datum":-3},"y":{"field":"v","type":"quantitative"}}},
{"data":{"name":"ticks"},"mark":{"type":"text","align":"center","baseline":"alphabetic","fontSize":21,"color":"#231f20"},"encoding":{"x":{"field":"t","type":"quantitative"},"y":{"datum":1.29,"type":"quantitative"},"text":{"field":"t","type":"quantitative","format":"d"}}},
{"data":{"values":[{"label":"ms"}]},"mark":{"type":"text","align":"left","baseline":"alphabetic","fontSize":21,"color":"#231f20"},"encoding":{"x":{"datum":640,"type":"quantitative"},"y":{"datum":1.29,"type":"quantitative"},"text":{"field":"label"}}},
{"data":{"values":[{"label":"1µV"}]},"mark":{"type":"text","align":"right","baseline":"alphabetic","fontSize":20,"color":"#231f20"},"encoding":{"x":{"datum":-12,"type":"quantitative"},"y":{"datum":1.29,"type":"quantitative"},"text":{"field":"label"}}},
{"data":{"values":[{"label":"-10µV"}]},"mark":{"type":"text","align":"left","baseline":"alphabetic","fontSize":20,"color":"#231f20"},"encoding":{"x":{"datum":17,"type":"quantitative"},"y":{"datum":-10.96,"type":"quantitative"},"text":{"field":"label"}}}
]}
],
"columns":2,
"spacing":{"row":0,"column":7},
"bounds":"flush"
}
